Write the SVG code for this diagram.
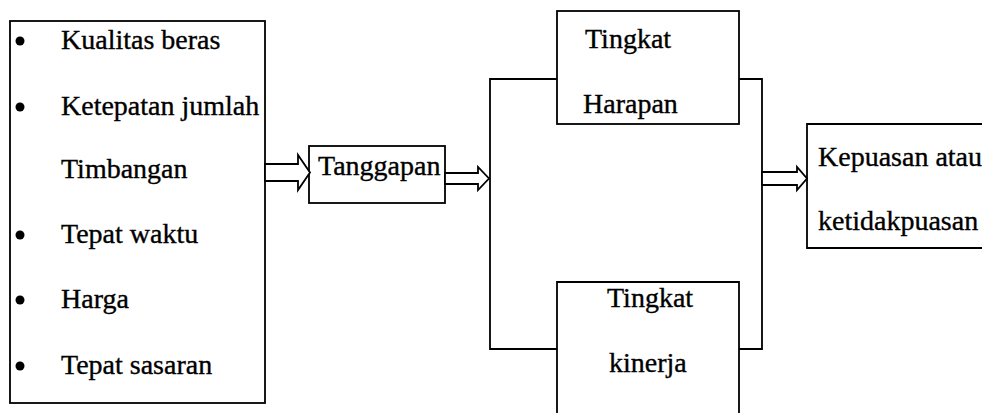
<svg xmlns="http://www.w3.org/2000/svg" width="982" height="413" viewBox="0 0 982 413">
<style>
.box{fill:#fff;stroke:#000;stroke-width:1.8}
.ln{fill:none;stroke:#000;stroke-width:1.8}
.arr{fill:#fff;stroke:#000;stroke-width:1.8;stroke-linejoin:miter}
text{font-family:"Liberation Serif","Times New Roman",serif;font-size:28px;fill:#000;stroke:#000;stroke-width:0.35}
</style>
<rect width="982" height="413" fill="#fff"/>
<g id="faktor">
<rect class="box" x="10" y="21" width="255" height="382"/>
<circle cx="20" cy="41" r="4.5"/>
<circle cx="20" cy="107" r="4.5"/>
<circle cx="20" cy="235" r="4.5"/>
<circle cx="20" cy="300" r="4.5"/>
<circle cx="20" cy="366" r="4.5"/>
<text x="61" y="49">Kualitas beras</text>
<text x="61" y="115">Ketepatan jumlah</text>
<text x="61" y="178">Timbangan</text>
<text x="61" y="243">Tepat waktu</text>
<text x="61" y="308">Harga</text>
<text x="61" y="374">Tepat sasaran</text>
</g>
<g id="tanggapan">
<rect class="box" x="309" y="146" width="136" height="57"/>
<text x="318" y="175">Tanggapan</text>
</g>
<g id="harapan">
<rect class="box" x="557" y="11" width="182" height="113"/>
<text x="585" y="48">Tingkat</text>
<text x="583" y="113">Harapan</text>
</g>
<g id="kinerja">
<path class="box" d="M557,420 V282 H739 V420"/>
<text x="607" y="307">Tingkat</text>
<text x="609" y="372">kinerja</text>
</g>
<g id="kepuasan">
<path class="box" d="M990,124 H807 V248 H990"/>
<text x="818" y="166">Kepuasan atau</text>
<text x="818" y="230">ketidakpuasan</text>
</g>
<g id="connectors">
<path class="ln" d="M557,79 H490 V349 H557"/>
<path class="ln" d="M739,79 H762 V349 H739"/>
<polygon class="arr" points="265,164 298,164 298,155 310,172.5 298,190 298,181 265,181"/>
<polygon class="arr" points="445,173 478,173 478,167 489,178.5 478,190 478,184 445,184"/>
<polygon class="arr" points="762,172 797,172 797,167 807,178.5 797,190 797,185 762,185"/>
</g>
</svg>
